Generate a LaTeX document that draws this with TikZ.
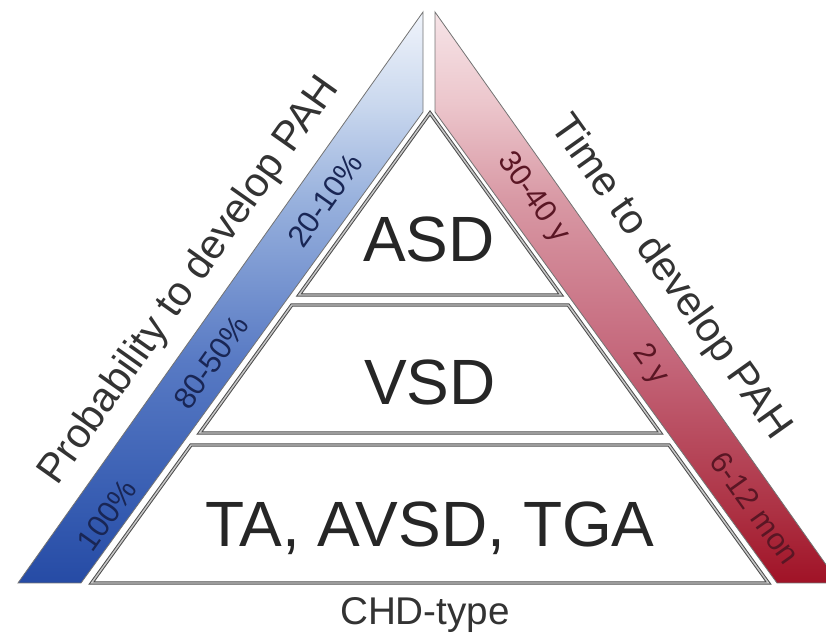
\documentclass[tikz,border=0pt]{standalone}
\usepackage{fontspec}
\setmainfont{Liberation Sans}
\definecolor{bB}{RGB}{38,75,165}
\definecolor{bB2}{RGB}{52,90,176}
\definecolor{bM}{RGB}{88,122,196}
\definecolor{bL}{RGB}{152,177,221}
\definecolor{bL2}{RGB}{202,216,238}
\definecolor{bT}{RGB}{240,244,251}
\definecolor{rB}{RGB}{160,18,38}
\definecolor{rB2}{RGB}{172,48,66}
\definecolor{rM}{RGB}{196,102,122}
\definecolor{rL}{RGB}{216,152,164}
\definecolor{rL2}{RGB}{236,198,204}
\definecolor{rT}{RGB}{246,228,231}
\definecolor{blueText}{RGB}{25,38,85}
\definecolor{redText}{RGB}{90,22,36}
\pgfdeclareverticalshading{blueband}{100bp}{color(0bp)=(bB); color(25bp)=(bB); color(31bp)=(bB2); color(44.5bp)=(bM); color(58.5bp)=(bL); color(67bp)=(bL2); color(75bp)=(bT); color(100bp)=(bT)}
\pgfdeclareverticalshading{redband}{100bp}{color(0bp)=(rB); color(25bp)=(rB); color(31bp)=(rB2); color(44.5bp)=(rM); color(58.5bp)=(rL); color(67bp)=(rL2); color(75bp)=(rT); color(100bp)=(rT)}
\begin{document}
\begin{tikzpicture}[x=0.75pt,y=-0.75pt,
  tier/.style={draw=black!70, line width=0.75pt, double=black!22, double distance=1.1pt, line join=miter, fill=white},
  band/.style={draw=black!55, line width=0.6pt, line join=miter},
  big/.style={font=\fontsize{48}{48}\selectfont, text=black!85, anchor=base},
  side/.style={font=\fontsize{31}{31}\selectfont, text=black!80},
  blab/.style={font=\fontsize{23}{23}\selectfont, text=blueText, rotate=54.7},
  rlab/.style={font=\fontsize{23}{23}\selectfont, text=redText, rotate=-54.6}]
\useasboundingbox (0,0) rectangle (826,641);
\clip (0,0) rectangle (826,641);
% bands
\shade[shading=blueband] (423,12) -- (18,583) -- (81,583) -- (423,112) -- cycle;
\draw[band] (423,12) -- (18,583) -- (81,583) -- (423,112) -- cycle;
\shade[shading=redband] (435,12) -- (839,583) -- (777,583) -- (435,112) -- cycle;
\draw[band] (435,12) -- (839,583) -- (777,583) -- (435,112) -- cycle;
% pyramid tiers
\draw[tier] (430,113) -- (561,295) -- (299,295) -- cycle;
\draw[tier] (291.8,305) -- (568.2,305) -- (660.4,433) -- (199.6,433) -- cycle;
\draw[tier] (191,445) -- (669,445) -- (768.4,583) -- (91.6,583) -- cycle;
% tier labels
\node[big] (asd) at (429,262) {ASD};
\node[big] (vsd) at (430,405) {VSD};
\node[big] (ta) at (430,547) {TA, AVSD, TGA};
\node[font=\fontsize{29}{29}\selectfont, text=black!80, anchor=base] (chd) at (425,625) {CHD-type};
% side titles
\node[side, rotate=54.7] (prob) at (190,281) {Probability to develop PAH};
\node[side, rotate=-54.6] (time) at (670,278) {Time to develop PAH};
% band labels
\node[blab] (p1) at (325,200) {20-10\%};
\node[blab] (p2) at (211,362) {80-50\%};
\node[blab] (p3) at (107,515) {100\%};
\node[rlab] (t1) at (533,198) {30-40 y};
\node[rlab] (t2) at (650,365) {2 y};
\node[rlab] (t3) at (755,508) {6-12 mon};
\end{tikzpicture}
\end{document}
